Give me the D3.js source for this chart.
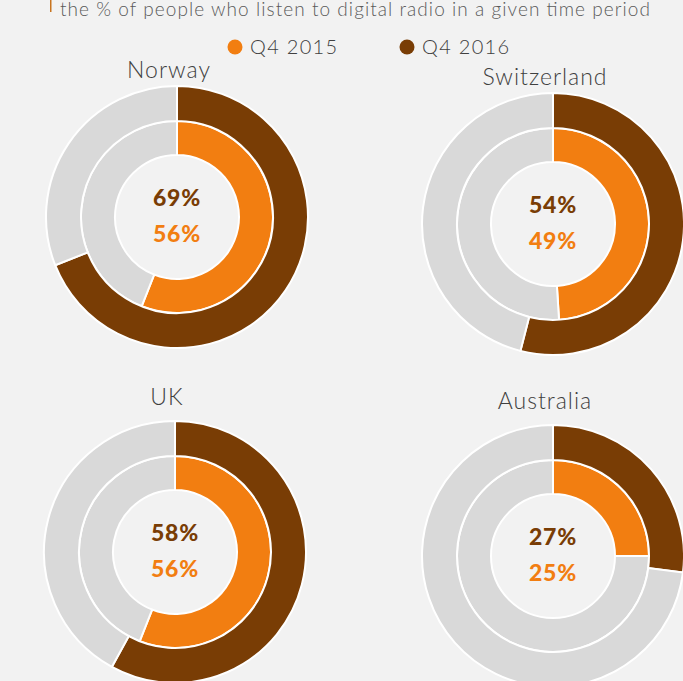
<!DOCTYPE html>
<html>
<head>
<meta charset="utf-8">
<script src="https://cdn.jsdelivr.net/npm/d3@7"></script>
<style>
	body { margin: 0; background: #f2f2f2; }
	svg { display: block; font-family: Lato, "Open Sans", sans-serif; }
</style>
</head>
<body>
<script>
// digital radio listening, share of people
var countries = ['Norway', 'Switzerland', 'UK', 'Australia']
var q4_2015 = [56, 49, 56, 25]
var q4_2016 = [69, 54, 58, 27]
var seriesNames = ['Q4 2015', 'Q4 2016']
var subtitle = 'the % of people who listen to digital radio in a given time period'

var color = d3.scaleOrdinal()
	.domain(seriesNames)
	.range(['#f27e11', '#793d05'])
var restColor = '#d9d9d9'

var width = 683,
	height = 681

// where each donut sits (layout only)
var centers = [[177, 217], [553, 224], [175, 552], [553, 556]]
var titleY = [78, 85, 405, 409]

var svg = d3.select('body').append('svg')
	.attr('width', width)
	.attr('height', height)

svg.append('rect')
	.attr('width', width)
	.attr('height', height)
	.attr('fill', '#f2f2f2')

// subtitle with small accent bar
svg.append('rect')
	.attr('x', 50).attr('y', 0)
	.attr('width', 1.5).attr('height', 12)
	.attr('fill', '#c8741f')

svg.append('text')
	.attr('x', 60)
	.attr('y', 16)
	.attr('font-size', 19)
	.attr('font-weight', 300)
	.attr('fill', '#5a5a5a')
	.attr('textLength', 590)
	.attr('lengthAdjust', 'spacing')
	.text(subtitle)

// legend
var legend = svg.selectAll('.legend')
	.data(seriesNames)
	.enter()
	.append('g')
		.attr('transform', (d, i) => 'translate(' + (235 + i * 172) + ',47)')

legend.append('circle')
	.attr('r', 7.5)
	.attr('fill', d => color(d))

legend.append('text')
	.attr('x', 15)
	.attr('y', 7)
	.attr('font-size', 20)
	.attr('font-weight', 300)
	.attr('letter-spacing', 1.3)
	.attr('fill', '#404040')
	.text(d => d)

var pie = d3.pie()
	.sort(null)
	.value(d => d.v)

var rings = [
	{ name: 'Q4 2015', values: q4_2015, r0: 62, r1: 96 },
	{ name: 'Q4 2016', values: q4_2016, r0: 96, r1: 131 }
]

countries.forEach(function (c, i) {
	var g = svg.append('g')
		.attr('transform', 'translate(' + centers[i] + ')')

	rings.forEach(function (ring) {
		var v = ring.values[i]
		var arc = d3.arc()
			.innerRadius(ring.r0)
			.outerRadius(ring.r1)

		g.selectAll('.seg_' + ring.name.replace(/\s/g, '_'))
			.data(pie([{ v: v, c: color(ring.name) }, { v: 100 - v, c: restColor }]))
			.enter()
			.append('path')
				.attr('d', arc)
				.attr('fill', d => d.data.c)
				.attr('stroke', 'white')
				.attr('stroke-width', 2)
	})

	svg.append('text')
		.attr('x', centers[i][0] - 8)
		.attr('y', titleY[i])
		.attr('text-anchor', 'middle')
		.attr('font-size', 23)
		.attr('font-weight', 300)
		.attr('letter-spacing', 1)
		.attr('fill', '#404040')
		.text(c)

	g.append('text')
		.attr('y', -11)
		.attr('text-anchor', 'middle')
		.attr('font-size', 23)
		.attr('font-weight', 900)
		.attr('letter-spacing', 0.8)
		.attr('fill', color('Q4 2016'))
		.text(q4_2016[i] + '%')

	g.append('text')
		.attr('y', 25)
		.attr('text-anchor', 'middle')
		.attr('font-size', 23)
		.attr('font-weight', 900)
		.attr('letter-spacing', 0.8)
		.attr('fill', color('Q4 2015'))
		.text(q4_2015[i] + '%')
})
</script>
</body>
</html>
